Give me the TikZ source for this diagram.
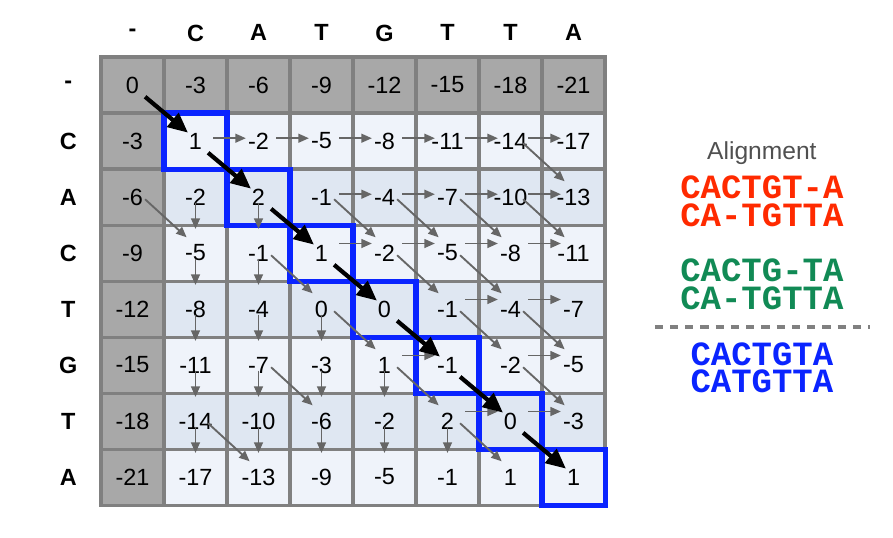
\documentclass[tikz,border=0pt]{standalone}
\usepackage{fontspec}
\setmainfont{Liberation Sans}
\setmonofont{Liberation Mono}
\usetikzlibrary{arrows.meta, calc}
\definecolor{cellgray}{HTML}{A8A8A8}
\definecolor{gridgray}{HTML}{808080}
\definecolor{rowlight}{HTML}{EFF3FA}
\definecolor{rowblue}{HTML}{DFE7F2}
\definecolor{ptrgray}{HTML}{666666}
\definecolor{pathblue}{HTML}{0A24FF}
\definecolor{titlegray}{HTML}{505050}
\definecolor{alnred}{HTML}{FF2A00}
\definecolor{alngreen}{HTML}{118A55}
\definecolor{alnblue}{HTML}{0A24FF}

\begin{document}
\begin{tikzpicture}[x=1.89cm, y=1.68cm,
  cell/.style={minimum width=1.89cm, minimum height=1.68cm, inner sep=0pt, outer sep=0pt, font=\fontsize{20}{24}\selectfont},
  lbl/.style={font=\fontsize{20}{24}\selectfont\bfseries},
  gridline/.style={gridgray, line width=2.6pt, line cap=rect},
  pathbox/.style={pathblue, line width=4.3pt, line join=miter},
  ptr/.style={ptrgray, line width=1.6pt, -{Triangle[length=9pt,width=7.5pt]}},
  best/.style={black, line width=3.6pt, -{Triangle[length=17pt,width=15pt]}},
  aln/.style={inner sep=0pt, font=\fontsize{29}{32}\selectfont\ttfamily\bfseries},
  sepline/.style={gridgray, line width=3.4pt, dash pattern=on 7pt off 6pt}]
\useasboundingbox (-1.603,1.018) rectangle (12.571,-8.571);

\foreach \j in {0,...,7} {\pgfmathtruncatemacro\v{-3*\j} \node[cell, fill=cellgray] (c-0-\j) at ({\j+0.5},-0.5) {\v};}
\foreach \i in {1,...,7} {\pgfmathtruncatemacro\v{-3*\i} \node[cell, fill=cellgray] (c-\i-0) at (0.5,{-\i-0.5}) {\v};}
\foreach \row [count=\i from 1] in {{1,-2,-5,-8,-11,-14,-17},{-2,2,-1,-4,-7,-10,-13},{-5,-1,1,-2,-5,-8,-11},{-8,-4,0,0,-1,-4,-7},{-11,-7,-3,1,-1,-2,-5},{-14,-10,-6,-2,2,0,-3},{-17,-13,-9,-5,-1,1,1}} {
  \ifodd\i \def\cellcol{rowlight}\else \def\cellcol{rowblue}\fi
  \foreach \v [count=\j from 1] in \row {\node[cell, fill=\cellcol] (c-\i-\j) at ({\j+0.5},{-\i-0.5}) {\v};}
}
\foreach \k in {0,...,8} {\draw[gridline] (\k,0) -- (\k,-8); \draw[gridline] (0,-\k) -- (8,-\k);}

\foreach \s [count=\j from 0] in {-,C,A,T,G,T,T,A} {\node[lbl] (top-\j) at ({\j+0.5},0.43) {\s};}
\foreach \s [count=\i from 0] in {-,C,A,C,T,G,T,A} {\node[lbl] (side-\i) at (-0.52,{-\i-0.5}) {\s};}

\foreach \k in {1,...,7} {\draw[pathbox] (c-\k-\k.north west) rectangle (c-\k-\k.south east);}

\foreach \i/\j in {1/2,1/3,1/4,1/5,1/6,1/7,2/4,2/5,2/6,2/7,3/4,3/5,3/6,3/7,4/6,4/7,5/5,5/7,6/6,6/7} {
  \pgfmathtruncatemacro\p{\j-1}
  \pgfmathsetmacro\dy{ifthenelse(\i<3,0.05,0.17)}
  \draw[ptr] ($(c-\i-\p)+(0.28,\dy)$) -- ($(c-\i-\j)+(-0.2,\dy)$);
}
\foreach \i/\j in {3/1,3/2,4/1,4/2,5/1,5/2,5/3,6/1,6/2,6/3,6/4,7/1,7/2,7/3,7/4,7/5} {
  \pgfmathtruncatemacro\p{\i-1}
  \draw[ptr] ($(c-\p-\j)+(0,-0.1)$) -- ($(c-\i-\j)+(0,0.43)$);
}
\foreach \i/\j in {2/7,3/1,3/4,3/5,3/6,3/7,4/3,4/5,4/6,5/4,5/6,5/7,6/3,6/5,6/7,7/2,7/6} {
  \pgfmathtruncatemacro\p{\i-1}
  \pgfmathtruncatemacro\q{\j-1}
  \draw[ptr] ($(c-\p-\q)+(0.2,-0.04)$) -- ($(c-\i-\j)+(-0.14,0.28)$);
}
\foreach \k in {1,...,7} {
  \pgfmathtruncatemacro\p{\k-1}
  \draw[best] ($(c-\p-\p)+(0.2,-0.21)$) -- ($(c-\k-\k)+(-0.12,0.15)$);
}

\node[font=\fontsize{21}{24}\selectfont, text=titlegray] (alntitle) at (10.49,-1.714) {Alignment};
\node[aln, text=alnred] (red-a) at (10.49,-2.32) {CACTGT-A};
\node[aln, text=alnred] (red-b) at (10.49,-2.82) {CA-TGTTA};
\node[aln, text=alngreen] (green-a) at (10.49,-3.80) {CACTG-TA};
\node[aln, text=alngreen] (green-b) at (10.49,-4.30) {CA-TGTTA};
\coordinate (sep-l) at (8.79,-4.82);
\coordinate (sep-r) at (12.21,-4.82);
\draw[sepline] (sep-l) -- (sep-r);
\node[aln, text=alnblue] (blue-a) at (10.49,-5.30) {CACTGTA};
\node[aln, text=alnblue] (blue-b) at (10.49,-5.79) {CATGTTA};
\end{tikzpicture}
\end{document}
